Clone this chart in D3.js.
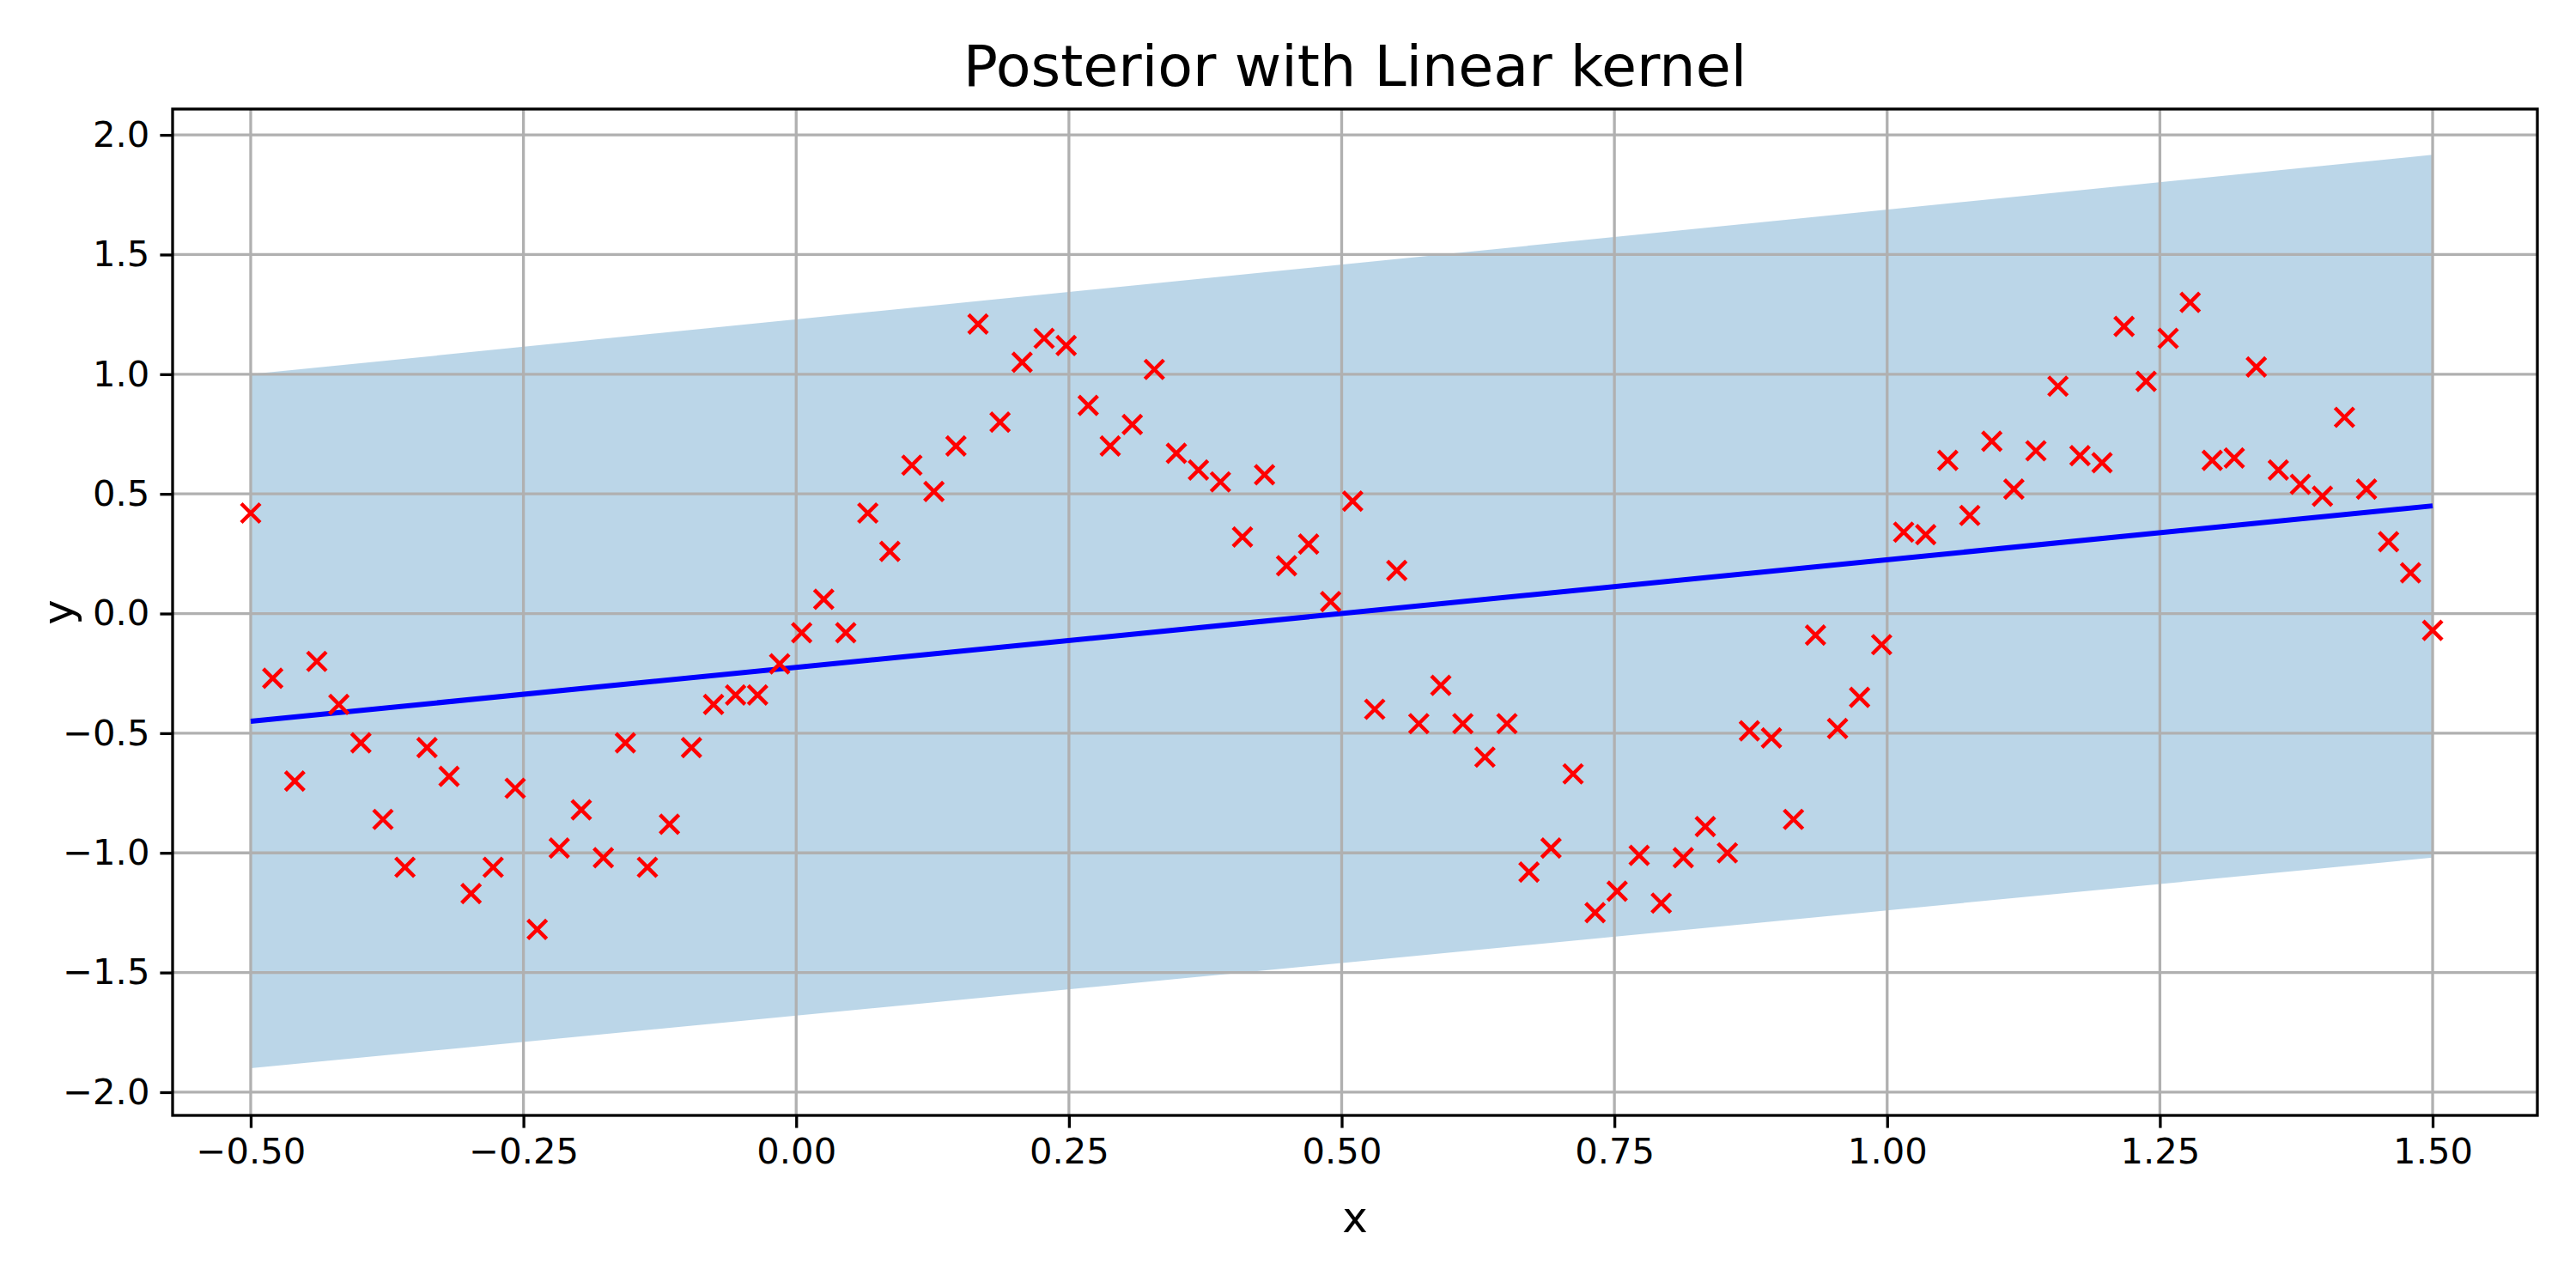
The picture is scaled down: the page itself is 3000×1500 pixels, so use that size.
<!DOCTYPE html>
<html>
<head>
<meta charset="utf-8">
<script src="https://cdn.jsdelivr.net/npm/d3@7"></script>
<style>
  body { margin: 0; background: #fff; }
  text { font-family: "DejaVu Sans", sans-serif; }
</style>
</head>
<body>
<svg id="chart" width="3000" height="1500"></svg>
<script>
// observations: 100 points, x evenly spaced on [-0.5, 1.5]
let xStart = -0.5, xEnd = 1.5;
let obsY = [
  0.42, -0.27, -0.70, -0.20, -0.38, -0.54, -0.86, -1.06, -0.56, -0.68,
  -1.17, -1.06, -0.73, -1.32, -0.98, -0.82, -1.02, -0.54, -1.06, -0.88,
  -0.56, -0.38, -0.34, -0.34, -0.21, -0.08, 0.06, -0.08, 0.42, 0.26,
  0.62, 0.51, 0.70, 1.21, 0.80, 1.05, 1.15, 1.12, 0.87, 0.70,
  0.79, 1.02, 0.67, 0.60, 0.55, 0.32, 0.58, 0.20, 0.29, 0.05,
  0.47, -0.40, 0.18, -0.46, -0.30, -0.46, -0.60, -0.46, -1.08, -0.98,
  -0.67, -1.25, -1.16, -1.01, -1.21, -1.02, -0.89, -1.00, -0.49, -0.52,
  -0.86, -0.09, -0.48, -0.35, -0.13, 0.34, 0.33, 0.64, 0.41, 0.72,
  0.52, 0.68, 0.95, 0.66, 0.63, 1.20, 0.97, 1.15, 1.30, 0.64,
  0.65, 1.03, 0.60, 0.54, 0.49, 0.82, 0.52, 0.30, 0.17, -0.07
];

// posterior mean and band (linear kernel -> straight lines)
let meanX = [-0.5, 1.5];
let meanY = [-0.45, 0.45];
let upperY = [1.0, 1.917];
let lowerY = [-1.9, -1.02];

let xTicks = [-0.5, -0.25, 0, 0.25, 0.5, 0.75, 1.0, 1.25, 1.5];
let yTicks = [-2.0, -1.5, -1.0, -0.5, 0.0, 0.5, 1.0, 1.5, 2.0];

let pLeft = 201, pRight = 2955, pTop = 127, pBottom = 1299;

let x = d3.scaleLinear().domain([-0.5716, 1.596]).range([pLeft, pRight]);
let y = d3.scaleLinear().domain([-2.097, 2.108]).range([pBottom, pTop]);

let svg = d3.select('#chart');

let step = (xEnd - xStart) / (obsY.length - 1);
let points = obsY.map(function(v, i) { return [xStart + i * step, v]; });

// band
let band = meanX.map(function(v, i) { return { x: v, lo: lowerY[i], hi: upperY[i] }; });
svg.append('path')
  .datum(band)
  .attr('fill', '#1f77b4')
  .attr('fill-opacity', 0.3)
  .attr('d', d3.area().x(d => x(d.x)).y0(d => y(d.lo)).y1(d => y(d.hi)));

// grid
let grid = svg.append('g').attr('stroke', '#b0b0b0').attr('stroke-width', 3.3);
xTicks.forEach(function(t) {
  grid.append('line').attr('x1', x(t)).attr('x2', x(t)).attr('y1', pTop).attr('y2', pBottom);
});
yTicks.forEach(function(t) {
  grid.append('line').attr('x1', pLeft).attr('x2', pRight).attr('y1', y(t)).attr('y2', y(t));
});

// mean line
svg.append('path')
  .datum(meanX.map((v, i) => [v, meanY[i]]))
  .attr('fill', 'none')
  .attr('stroke', '#0000ff')
  .attr('stroke-width', 6)
  .attr('d', d3.line().x(d => x(d[0])).y(d => y(d[1])));

// markers
let s = 11;
let marks = svg.append('g').attr('stroke', '#ff0000').attr('stroke-width', 4.5);
points.forEach(function(p) {
  let cx = x(p[0]), cy = y(p[1]);
  marks.append('path').attr('d', 'M' + (cx - s) + ',' + (cy - s) + 'L' + (cx + s) + ',' + (cy + s) +
    'M' + (cx - s) + ',' + (cy + s) + 'L' + (cx + s) + ',' + (cy - s));
});

// axes
function fmt(d, n) { return d3.format('.' + n + 'f')(d).replace('-', '\u2212'); }
let xAxis = svg.append('g').attr('transform', 'translate(0,' + pBottom + ')')
  .call(d3.axisBottom(x).tickValues(xTicks).tickSize(14.6).tickPadding(12).tickFormat(d => fmt(d, 2)));
let yAxis = svg.append('g').attr('transform', 'translate(' + pLeft + ',0)')
  .call(d3.axisLeft(y).tickValues(yTicks).tickSize(14.6).tickPadding(12).tickFormat(d => fmt(d, 1)));
[xAxis, yAxis].forEach(function(a) {
  a.select('.domain').remove();
  a.selectAll('line').attr('stroke', '#000').attr('stroke-width', 3.3);
  a.selectAll('text').attr('font-size', 41.7).attr('fill', '#000').style('font-family', '"DejaVu Sans", sans-serif');
});

svg.append('rect').attr('x', pLeft).attr('y', pTop).attr('width', pRight - pLeft).attr('height', pBottom - pTop)
  .attr('fill', 'none').attr('stroke', '#000').attr('stroke-width', 3.3);

// labels
svg.append('text').attr('x', (pLeft + pRight) / 2).attr('y', 100).attr('text-anchor', 'middle')
  .attr('font-size', 66.7).text('Posterior with Linear kernel');
svg.append('text').attr('x', (pLeft + pRight) / 2).attr('y', 1435).attr('text-anchor', 'middle')
  .attr('font-size', 50).text('x');
svg.append('text').attr('transform', 'translate(85,' + (pTop + pBottom) / 2 + ') rotate(-90)')
  .attr('text-anchor', 'middle').attr('font-size', 50).text('y');
</script>
</body>
</html>
